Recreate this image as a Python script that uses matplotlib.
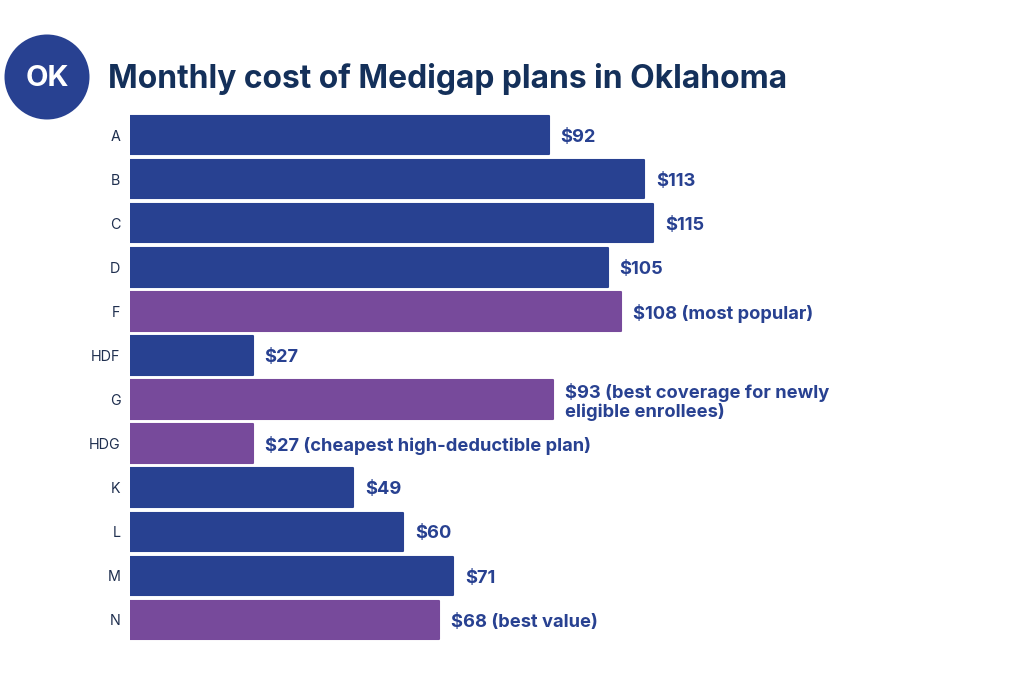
import matplotlib
matplotlib.use("Agg")
import matplotlib.pyplot as plt
from matplotlib.patches import Circle

plans = ["A","B","C","D","F","HDF","G","HDG","K","L","M","N"]
costs = [92,113,115,105,108,27,93,27,49,60,71,68]
notes = ["","","",""," (most popular)",""," (best coverage for newly\neligible enrollees)"," (cheapest high-deductible plan)","","",""," (best value)"]
highlight = [False,False,False,False,True,False,True,True,False,False,False,True]
BLUE="#284191"; PURPLE="#774A9B"; NAVY="#14305A"

plt.rcParams['font.family']=['Inter','DejaVu Sans']
W,H=1024,676
L,T,R,B=130,113,900,642
fig=plt.figure(figsize=(W/100,H/100),dpi=100,facecolor='white')
bg=fig.add_axes([0,0,1,1]); bg.set_xlim(0,W); bg.set_ylim(H,0); bg.axis('off')
bg.add_patch(Circle((47,77),42.5,color=BLUE,lw=0))
bg.text(47,78,"OK",color='white',fontsize=21,fontweight='bold',ha='center',va='center')
bg.text(108,79,"Monthly cost of Medigap plans in Oklahoma",color=NAVY,fontsize=22.9,fontweight='bold',ha='left',va='center')

ax=fig.add_axes([L/W,1-B/H,(R-L)/W,(B-T)/H])
ax.set_xlim(0,(R-L)/4.55)
ax.set_ylim(len(plans)-0.5,-0.5)
for i,(c,h) in enumerate(zip(costs,highlight)):
    col=PURPLE if h else BLUE
    ax.barh(i,c,height=0.875,color=col,edgecolor=col,linewidth=1.5,joinstyle='round',zorder=2)
    ax.text(c+2.6,i+0.05,f"${c}{notes[i]}",va='center',ha='left',fontsize=13.2,fontweight='bold',color=BLUE,linespacing=1.05,clip_on=False)
ax.set_yticks(range(len(plans)),plans)
ax.tick_params(axis='y',length=0,pad=7,labelsize=10.3,labelcolor='#1f2f4f')
ax.set_xticks([])
for s in ax.spines.values(): s.set_visible(False)
ax.patch.set_alpha(0)
fig.savefig("out.png",dpi=100)
